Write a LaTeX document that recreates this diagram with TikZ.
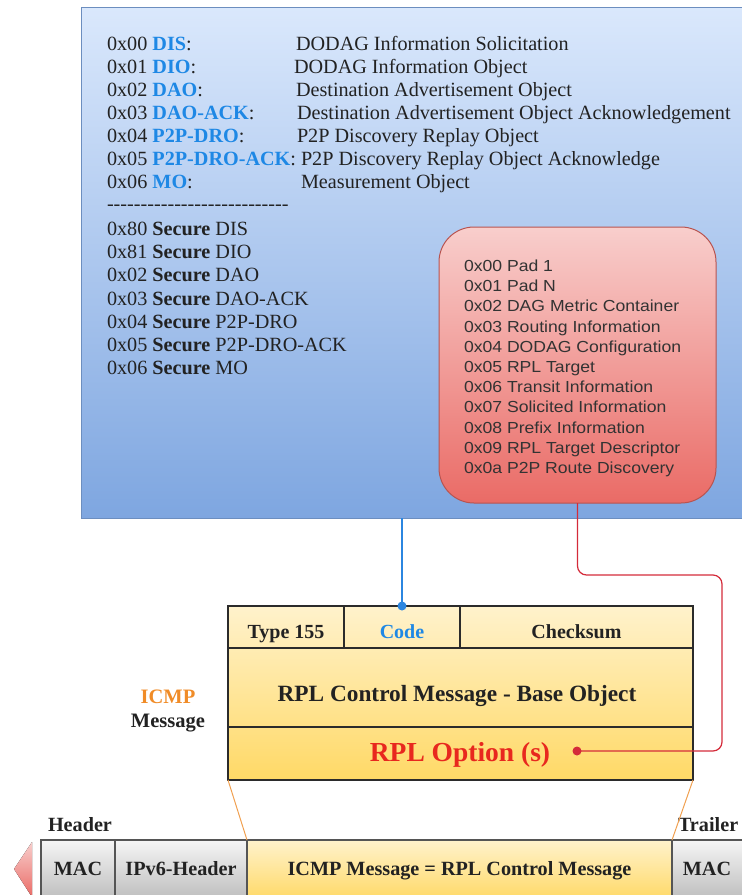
\documentclass[tikz,border=0pt]{standalone}
\usepackage{fontspec}
\setmainfont{Liberation Serif}
\newfontfamily\optfont{Liberation Sans}[FakeStretch=1.1]
\definecolor{bluetop}{HTML}{DAE8FC}
\definecolor{bluebot}{HTML}{7EA6E0}
\definecolor{blueline}{HTML}{6C8EBF}
\definecolor{lblblue}{HTML}{1E88E5}
\definecolor{ink}{HTML}{222222}
\definecolor{redtop}{HTML}{F8CECC}
\definecolor{redbot}{HTML}{EA6B66}
\definecolor{redline}{HTML}{B85450}
\definecolor{optink}{HTML}{333333}
\definecolor{wire}{HTML}{D42B3A}
\definecolor{optred}{HTML}{E8281E}
\definecolor{bluewire}{HTML}{2B86E0}
\definecolor{icmporange}{HTML}{F08C28}
\definecolor{orangeline}{HTML}{F0A050}
\definecolor{yeltop}{HTML}{FFF2CC}
\definecolor{yelbot}{HTML}{FFD966}
\definecolor{graytop}{HTML}{F5F5F5}
\definecolor{graybot}{HTML}{BDBDBD}
\definecolor{grayline}{HTML}{555555}
\definecolor{tableline}{HTML}{2B2B2B}
\newcommand{\lbl}[1]{\textcolor{lblblue}{\bfseries #1}}
\newcommand{\hy}{-\kern0pt}
\begin{document}
\begin{tikzpicture}[x=1pt,y=-1pt,
  every node/.style={inner sep=0pt, outer sep=0pt},
  typetxt/.style={anchor=base west, text=ink, font=\fontsize{20.2}{23}\selectfont},
  optline/.style={anchor=base west, text=optink, font=\optfont\fontsize{16}{20}\selectfont},
  tcell/.style={draw=tableline, line width=1.2pt},
  ttext/.style={anchor=base, text=ink, font=\bfseries\fontsize{20}{24}\selectfont},
  graycell/.style={draw=grayline, line width=1.2pt, top color=graytop, bottom color=graybot},
  yelcell/.style={draw=grayline, line width=1.2pt, top color=yeltop, bottom color=yelbot},
  btext/.style={anchor=base, text=ink, font=\bfseries\fontsize{20.2}{24}\selectfont}
]
\useasboundingbox (0,0) rectangle (742,895);
\clip (0,0) rectangle (742,895);

% ---- message type box ----
\node[draw=blueline, line width=1pt, top color=bluetop, bottom color=bluebot,
      minimum width=690pt, minimum height=511pt, anchor=north west] (types) at (81,7) {};

\node[typetxt] (k0) at (107,50)  {0x00 \lbl{DIS}:};
\node[typetxt] (d0) at (296,50)  {DODAG Information Solicitation};
\node[typetxt] (k1) at (107,73)  {0x01 \lbl{DIO}:};
\node[typetxt] (d1) at (294,73)  {DODAG Information Object};
\node[typetxt] (k2) at (107,96)  {0x02 \lbl{DAO}:};
\node[typetxt] (d2) at (296,96)  {Destination Advertisement Object};
\node[typetxt] (k3) at (107,119) {0x03 \lbl{DAO-ACK}:};
\node[typetxt] (d3) at (297,119) {Destination Advertisement Object Acknowledgement};
\node[typetxt] (k4) at (107,142) {0x04 \lbl{P2P-DRO}:};
\node[typetxt] (d4) at (297,142) {P2P Discovery Replay Object};
\node[typetxt] (k5) at (107,165) {0x05 \lbl{P2P-DRO-ACK}:};
\node[typetxt] (d5) at (301,165) {P2P Discovery Replay Object Acknowledge};
\node[typetxt] (k6) at (107,188.5) {0x06 \lbl{MO}:};
\node[typetxt] (d6) at (301,188.5) {Measurement Object};
\node[typetxt] (sep) at (107,210) {\hy\hy\hy\hy\hy\hy\hy\hy\hy\hy\hy\hy\hy\hy\hy\hy\hy\hy\hy\hy\hy\hy\hy\hy\hy\hy\hy};
\node[typetxt] (s0) at (107,235.7) {0x80 \textbf{Secure} DIS};
\node[typetxt] (s1) at (107,258.8) {0x81 \textbf{Secure} DIO};
\node[typetxt] (s2) at (107,281.9) {0x02 \textbf{Secure} DAO};
\node[typetxt] (s3) at (107,305)   {0x03 \textbf{Secure} DAO-ACK};
\node[typetxt] (s4) at (107,328.1) {0x04 \textbf{Secure} P2P-DRO};
\node[typetxt] (s5) at (107,351.2) {0x05 \textbf{Secure} P2P-DRO-ACK};
\node[typetxt] (s6) at (107,374.3) {0x06 \textbf{Secure} MO};

% ---- option box ----
\node[draw=redline, line width=1pt, rounded corners=35pt, top color=redtop, bottom color=redbot,
      minimum width=277pt, minimum height=276pt, anchor=north west] (optbox) at (439,227) {};
\node[optline] (o0) at (464,271.5) {0x00 Pad 1};
\node[optline] (o1) at (464,291.7) {0x01 Pad N};
\node[optline] (o2) at (464,311.9) {0x02 DAG Metric Container};
\node[optline] (o3) at (464,332.1) {0x03 Routing Information};
\node[optline] (o4) at (464,352.3) {0x04 DODAG Configuration};
\node[optline] (o5) at (464,372.5) {0x05 RPL Target};
\node[optline] (o6) at (464,392.7) {0x06 Transit Information};
\node[optline] (o7) at (464,412.9) {0x07 Solicited Information};
\node[optline] (o8) at (464,433.1) {0x08 Prefix Information};
\node[optline] (o9) at (464,453.3) {0x09 RPL Target Descriptor};
\node[optline] (o10) at (464,473.5) {0x0a P2P Route Discovery};

% ---- ICMP message table ----
\node[draw=tableline, line width=1.2pt, top color=yeltop, bottom color=yelbot,
      minimum width=465pt, minimum height=174pt] (table) at (460.5,693) {};
\node[tcell, minimum width=116pt, minimum height=42pt] (t1) at (286,627) {};
\node[tcell, minimum width=116pt, minimum height=42pt] (t2) at (402,627) {};
\node[tcell, minimum width=233pt, minimum height=42pt] (t3) at (576.5,627) {};
\node[tcell, minimum width=465pt, minimum height=79pt] (base) at (460.5,687.5) {};
\node[tcell, minimum width=465pt, minimum height=53pt] (opt) at (460.5,753.5) {};
\node[ttext] (t1txt) at (286,638) {Type 155};
\node[ttext, text=lblblue] (t2txt) at (402,638) {Code};
\node[ttext] (t3txt) at (576.5,638) {Checksum};
\node[ttext, font=\bfseries\fontsize{23.3}{28}\selectfont] (basetxt) at (457,701.5) {RPL Control Message - Base Object};
\node[ttext, text=optred, font=\bfseries\fontsize{27.5}{32}\selectfont] (opttxt) at (460,761.5) {RPL Option (s)};
\coordinate (optdot) at (577,751);

\node[ttext, text=icmporange, font=\bfseries\fontsize{20.5}{24}\selectfont] (icmplbl) at (168,703) {ICMP};
\node[ttext, font=\bfseries\fontsize{20.5}{24}\selectfont] (msglbl) at (168,727) {Message};

% ---- connectors ----
\draw[bluewire, line width=1.2pt] (t2.north |- types.south) -- (t2.north);
\fill[bluewire] (t2.north) circle (4.5pt);
\coordinate (rc1) at (722,575);
\draw[wire, line width=1.2pt, rounded corners=9pt] (optbox.south) |- (rc1) |- (optdot);
\fill[wire] (optdot) circle (4.5pt);

% ---- frame row ----
\fill[top color=redtop, bottom color=redbot] (32,842) -- (32,897) -- (14,869) -- cycle;
\node[graycell, minimum width=74pt, minimum height=60pt, anchor=north west] (mac1) at (41,840) {};
\node[graycell, minimum width=132pt, minimum height=60pt, anchor=north west] (ipv6) at (115,840) {};
\node[yelcell, minimum width=425pt, minimum height=60pt, anchor=north west] (icmpm) at (247,840) {};
\node[graycell, minimum width=80pt, minimum height=60pt, anchor=north west] (mac2) at (672,840) {};
\node[btext] (mac1txt) at (78,875) {MAC};
\node[btext] (ipv6txt) at (181,875) {IPv6-Header};
\node[btext] (icmpmtxt) at (459.5,875) {ICMP Message = RPL Control Message};
\node[btext] (mac2txt) at (707,875) {MAC};
\node[btext, anchor=base west] (hdr) at (48,831.5) {Header};
\node[btext, anchor=base west] (trl) at (678,831.5) {Trailer};

\draw[orangeline, line width=1pt] (table.south west) -- (icmpm.north west);
\draw[orangeline, line width=1pt] (table.south east) -- (icmpm.north east);
\end{tikzpicture}
\end{document}
